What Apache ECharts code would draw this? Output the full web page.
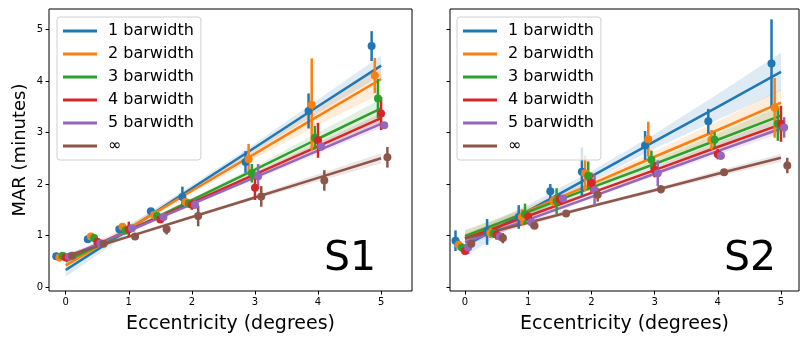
<!DOCTYPE html>
<html><head><meta charset="utf-8">
<script src="https://cdn.jsdelivr.net/npm/echarts@6/dist/echarts.min.js"></script>
<style>html,body{margin:0;padding:0;background:#fff}#c{width:800px;height:339px}</style>
</head><body><div id="c"></div><script>
const names = ['1 barwidth','2 barwidth','3 barwidth','4 barwidth','5 barwidth','∞'];
const colors = ['#1f77b4','#ff7f0e','#2ca02c','#d62728','#9467bd','#8c564b'];
const ecc = [0,0.5,1,1.5,2,3,4,5];
const dodge = [-0.15,-0.1,-0.05,0,0.05,0.1];
const xTicks = [0,1,2,3,4,5];
const yTicks = [0,1,2,3,4,5];
const fitX = [0,1,2,3,4,5];

// Panel S1
const s1Mean = [
 [0.60,0.93,1.12,1.47,1.75,2.43,3.42,4.68],
 [0.575,0.98,1.17,1.40,1.65,2.48,3.54,4.11],
 [0.61,0.95,1.10,1.38,1.62,2.21,2.90,3.66],
 [0.575,0.88,1.12,1.31,1.60,1.93,2.85,3.37],
 [0.59,0.85,1.14,1.36,1.60,2.15,2.73,3.14],
 [0.61,0.84,0.98,1.12,1.38,1.76,2.07,2.52]];
const s1Err = [
 [0.03,0.07,0.05,0.06,0.20,0.21,0.34,0.29],
 [0.03,0.05,0.05,0.05,0.08,0.30,0.90,0.34],
 [0.03,0.04,0.05,0.05,0.08,0.18,0.23,0.38],
 [0.03,0.05,0.15,0.05,0.10,0.24,0.34,0.32],
 [0.03,0.04,0.05,0.05,0.08,0.24,0.08,0.04],
 [0.03,0.04,0.04,0.10,0.20,0.20,0.20,0.20]];
const s1Fit = [
 [0.33,1.12,1.92,2.71,3.51,4.30],
 [0.42,1.14,1.87,2.59,3.32,4.04],
 [0.50,1.09,1.69,2.28,2.88,3.47],
 [0.55,1.10,1.64,2.19,2.73,3.28],
 [0.57,1.09,1.61,2.13,2.65,3.17],
 [0.60,0.98,1.36,1.74,2.12,2.50]];
const s1Band = [
 [0.13,0.08,0.06,0.08,0.13,0.19],
 [0.12,0.07,0.05,0.09,0.18,0.28],
 [0.07,0.05,0.04,0.06,0.12,0.18],
 [0.05,0.03,0.03,0.04,0.07,0.10],
 [0.05,0.03,0.03,0.04,0.06,0.08],
 [0.05,0.03,0.03,0.04,0.07,0.10]];

// Panel S2
const s2Mean = [
 [0.90,1.07,1.36,1.86,2.24,2.75,3.22,4.34],
 [0.82,1.05,1.36,1.67,2.21,2.87,2.86,3.48],
 [0.77,1.04,1.42,1.67,2.16,2.47,2.86,3.17],
 [0.70,1.02,1.37,1.70,2.02,2.28,2.58,3.17],
 [0.77,0.98,1.26,1.72,1.88,2.21,2.55,3.10],
 [0.84,0.95,1.19,1.43,1.79,1.90,2.23,2.36]];
const s2Err = [
 [0.20,0.25,0.23,0.14,0.47,0.28,0.24,0.86],
 [0.10,0.10,0.15,0.10,0.35,0.34,0.19,0.58],
 [0.08,0.08,0.20,0.25,0.28,0.18,0.15,0.33],
 [0.05,0.10,0.08,0.10,0.20,0.15,0.10,0.35],
 [0.13,0.06,0.10,0.06,0.30,0.25,0.08,0.20],
 [0.06,0.10,0.06,0.05,0.13,0.08,0.05,0.15]];
const s2Fit = [
 [0.80,1.48,2.15,2.83,3.50,4.18],
 [0.95,1.48,2.00,2.53,3.05,3.58],
 [0.99,1.46,1.93,2.39,2.86,3.33],
 [0.94,1.38,1.83,2.27,2.72,3.16],
 [0.87,1.31,1.75,2.20,2.64,3.08],
 [0.94,1.25,1.57,1.88,2.20,2.51]];
const s2Band = [
 [0.20,0.12,0.10,0.14,0.25,0.37],
 [0.15,0.09,0.07,0.10,0.17,0.26],
 [0.12,0.07,0.05,0.07,0.12,0.18],
 [0.10,0.06,0.04,0.06,0.09,0.13],
 [0.08,0.05,0.03,0.05,0.07,0.10],
 [0.08,0.05,0.03,0.04,0.06,0.08]];

const FONT = 'DejaVu Sans';
const chart = echarts.init(document.getElementById('c'), null, {renderer:'canvas'});

function panelSeries(gi, mean, err, fit, band) {
  const out = [];
  for (let i = 0; i < 6; i++) {
    const col = colors[i];
    const fitArr = fit[i], bandArr = band[i];
    out.push({
      type:'custom', xAxisIndex:gi, yAxisIndex:gi, z:1, silent:true,
      data:[[0,0]],
      renderItem:function(params, api){
        const up = [], lo = [];
        for (let k = 0; k < fitX.length; k++) {
          up.push(api.coord([fitX[k], fitArr[k] + bandArr[k]]));
          lo.push(api.coord([fitX[k], fitArr[k] - bandArr[k]]));
        }
        return {type:'polygon', shape:{points: up.concat(lo.reverse())},
                style:{fill: col, opacity:0.15}};
      }
    });
  }
  for (let i = 0; i < 6; i++) {
    out.push({
      type:'line', name:names[i], xAxisIndex:gi, yAxisIndex:gi, z:2,
      data: fitX.map((x,k)=>[x, fit[i][k]]),
      showSymbol:false, symbol:'none', silent:true,
      lineStyle:{color:colors[i], width:2.5}, itemStyle:{color:colors[i]}
    });
  }
  for (let i = 0; i < 6; i++) {
    const col = colors[i];
    out.push({
      type:'custom', xAxisIndex:gi, yAxisIndex:gi, z:3, silent:true,
      data: ecc.map((e,k)=>[e + dodge[i], mean[i][k] - err[i][k], mean[i][k] + err[i][k]]),
      renderItem:function(params, api){
        const a = api.coord([api.value(0), api.value(1)]);
        const b = api.coord([api.value(0), api.value(2)]);
        return {type:'line', shape:{x1:a[0], y1:a[1], x2:b[0], y2:b[1]},
                style:{stroke: col, lineWidth:2.5}};
      }
    });
    out.push({
      type:'scatter', xAxisIndex:gi, yAxisIndex:gi, z:4, silent:true,
      data: ecc.map((e,k)=>[e + dodge[i], mean[i][k]]),
      symbol:'circle', symbolSize:8, itemStyle:{color:col, opacity:1}
    });
  }
  return out;
}

function xAxis(gi, min, max) {
  return {
    type:'value', gridIndex:gi, min:min, max:max, position:'bottom',
    splitLine:{show:false}, axisLine:{show:false, onZero:false},
    axisTick:{show:true, length:3.5, inside:false, customValues:xTicks, lineStyle:{color:'#000', width:1}},
    axisLabel:{show:true, customValues:xTicks, color:'#000', fontSize:10, fontFamily:FONT, margin:6},
    name:'Eccentricity (degrees)', nameLocation:'middle', nameGap:24,
    nameTextStyle:{fontSize:19, color:'#000', fontFamily:FONT, verticalAlign:'top'}
  };
}
function yAxis(gi, showLabels) {
  const ax = {
    type:'value', gridIndex:gi, min:-0.077, max:5.4, position:'left',
    splitLine:{show:false}, axisLine:{show:false, onZero:false},
    axisTick:{show:true, length:3.5, customValues:yTicks, lineStyle:{color:'#000', width:1}},
    axisLabel:{show:showLabels, customValues:yTicks, color:'#000', fontSize:10, fontFamily:FONT, margin:6}
  };
  if (showLabels) {
    ax.name = 'MAR (minutes)';
    ax.nameLocation = 'middle';
    ax.nameGap = 20;
    ax.nameTextStyle = {fontSize:18, color:'#000', fontFamily:FONT};
  }
  return ax;
}

function legend(left) {
  return {
    orient:'vertical', left:left, top:17,
    data: names.map(n=>({name:n})),
    icon:'rect', itemWidth:34, itemHeight:3, itemGap:7,
    padding:[6,7,6,6],
    backgroundColor:'rgba(255,255,255,0.8)', borderColor:'#d0d0d0', borderWidth:1, borderRadius:3,
    textStyle:{fontSize:16, color:'#000', fontFamily:FONT, padding:[0,0,0,6]},
    selectedMode:false
  };
}

const option = {
  animation:false,
  backgroundColor:'#fff',
  grid:[
    {left:49, top:9, width:363, height:286, show:true, borderColor:'#000', borderWidth:1, backgroundColor:'transparent'},
    {left:450, top:9, width:349, height:286, show:true, borderColor:'#000', borderWidth:1, backgroundColor:'transparent'}
  ],
  xAxis:[xAxis(0, -0.265, 5.49), xAxis(1, -0.237, 5.285)],
  yAxis:[yAxis(0, true), yAxis(1, false)],
  legend:[legend(57), legend(457)],
  graphic:[
    {type:'text', left:324, top:239, silent:true, style:{text:'S1', fontSize:41, fontFamily:FONT, fill:'#000'}},
    {type:'text', left:724, top:239, silent:true, style:{text:'S2', fontSize:41, fontFamily:FONT, fill:'#000'}}
  ],
  series: panelSeries(0, s1Mean, s1Err, s1Fit, s1Band).concat(panelSeries(1, s2Mean, s2Err, s2Fit, s2Band))
};
chart.setOption(option);
</script></body></html>
